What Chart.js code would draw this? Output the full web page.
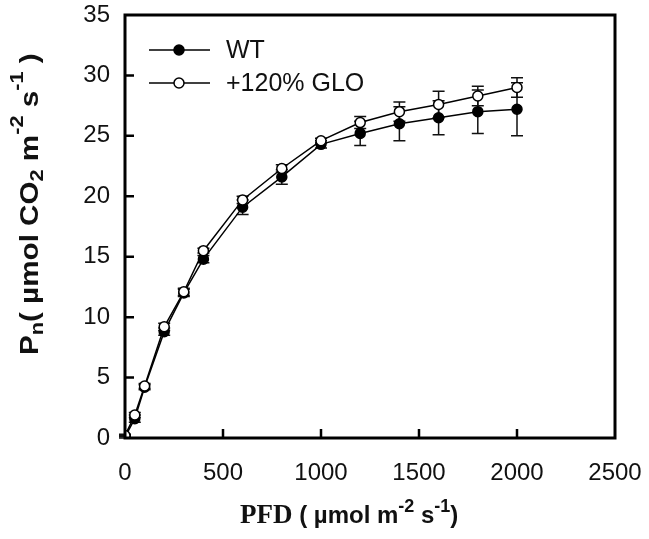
<!DOCTYPE html>
<html>
<head>
<meta charset="utf-8">
<script src="https://cdn.jsdelivr.net/npm/chart.js@4"></script>
<style>
  html, body { margin: 0; padding: 0; background: #fff; }
  #wrap { width: 649px; height: 539px; position: relative; }
</style>
</head>
<body>
<div id="wrap"><canvas id="lightChart"></canvas></div>
<script>
// PFD levels (µmol m-2 s-1)
const pfd = [0, 50, 100, 200, 300, 400, 600, 800, 1000, 1200, 1400, 1600, 1800, 2000];

// net photosynthesis, WT
const wtMean = [0.1, 1.6, 4.2, 8.8, 12.0, 14.8, 19.1, 21.6, 24.3, 25.2, 26.0, 26.5, 27.0, 27.2];
const wtErr  = [0.1, 0.3, 0.2, 0.3, 0.3, 0.3, 0.6, 0.6, 0.3, 1.0, 1.4, 1.4, 1.8, 2.2];

// net photosynthesis, +120% GLO
const gloMean = [0.2, 1.9, 4.3, 9.2, 12.1, 15.5, 19.7, 22.3, 24.6, 26.1, 27.0, 27.6, 28.3, 29.0];
const gloErr  = [0.1, 0.2, 0.2, 0.3, 0.3, 0.2, 0.3, 0.3, 0.2, 0.5, 0.8, 1.1, 0.8, 0.8];

const seriesNames = ['WT', '+120% GLO'];
const xTicks = [0, 500, 1000, 1500, 2000, 2500];
const yTicks = [0, 5, 10, 15, 20, 25, 30, 35];

const SANS = '"Liberation Sans", Arial, sans-serif';
const SERIF = '"Liberation Serif", "Times New Roman", serif';

function toPoints(xs, ys) {
    return xs.map((x, i) => ({ x: x, y: ys[i] }));
}

// error bars, drawn under the markers
const errorBars = {
    id: 'errorBars',
    beforeDatasetsDraw(chart) {
        const ctx = chart.ctx;
        const xs = chart.scales.x, ys = chart.scales.y;
        ctx.save();
        ctx.strokeStyle = '#111';
        ctx.lineWidth = 1.5;
        chart.data.datasets.forEach(ds => {
            ds.data.forEach((p, i) => {
                const e = ds.errors[i];
                const px = xs.getPixelForValue(p.x);
                const top = ys.getPixelForValue(p.y + e);
                const bot = ys.getPixelForValue(p.y - e);
                ctx.beginPath();
                ctx.moveTo(px, top); ctx.lineTo(px, bot);
                ctx.moveTo(px - 6, top); ctx.lineTo(px + 6, top);
                ctx.moveTo(px - 6, bot); ctx.lineTo(px + 6, bot);
                ctx.stroke();
            });
        });
        ctx.restore();
    }
};

// frame, inward ticks, legend and axis titles
const decorations = {
    id: 'decorations',
    afterDraw(chart) {
        const ctx = chart.ctx;
        const a = chart.chartArea;
        const xs = chart.scales.x, ys = chart.scales.y;
        ctx.save();
        ctx.strokeStyle = '#000';
        ctx.lineWidth = 3;
        ctx.strokeRect(a.left, a.top, a.right - a.left, a.bottom - a.top);

        ctx.lineWidth = 2.5;
        ctx.beginPath();
        xTicks.slice(1, -1).forEach(v => {
            const px = xs.getPixelForValue(v);
            ctx.moveTo(px, a.bottom); ctx.lineTo(px, a.bottom - 9);
        });
        yTicks.slice(1, -1).forEach(v => {
            const py = ys.getPixelForValue(v);
            ctx.moveTo(a.left, py); ctx.lineTo(a.left + 9, py);
        });
        ctx.stroke();

        // legend
        const rows = [
            { name: seriesNames[0], fill: '#000', y: 50 },
            { name: seriesNames[1], fill: '#fff', y: 83 }
        ];
        rows.forEach(r => {
            ctx.lineWidth = 1.5;
            ctx.strokeStyle = '#000';
            ctx.beginPath();
            ctx.moveTo(149, r.y); ctx.lineTo(210, r.y);
            ctx.stroke();
            ctx.beginPath();
            ctx.arc(179, r.y, 5, 0, Math.PI * 2);
            ctx.fillStyle = r.fill;
            ctx.fill();
            ctx.stroke();
            ctx.fillStyle = '#111';
            ctx.font = '25px ' + SANS;
            ctx.textBaseline = 'middle';
            ctx.textAlign = 'left';
            ctx.fillText(r.name, 226, r.y + 1);
        });

        // x title: PFD ( µmol m-2 s-1)
        ctx.textBaseline = 'alphabetic';
        let x = 240;
        const xb = 523;
        const put = (txt, font, dy) => {
            ctx.font = font;
            ctx.fillText(txt, x, xb + dy);
            x += ctx.measureText(txt).width;
        };
        ctx.fillStyle = '#111';
        put('PFD', 'bold 27px ' + SERIF, 0);
        put(' ( µmol m', 'bold 24px ' + SANS, 0);
        put('-2', 'bold 18px ' + SANS, -11);
        put(' s', 'bold 24px ' + SANS, 0);
        put('-1', 'bold 18px ' + SANS, -11);
        put(')', 'bold 24px ' + SANS, 0);

        // y title: Pn( µmol CO2 m-2 s-1 ), a little stretched along its length
        ctx.translate(38, 355);
        ctx.rotate(-Math.PI / 2);
        ctx.scale(1.14, 1);
        x = 0;
        const putY = (txt, font, dy) => {
            ctx.font = font;
            ctx.fillText(txt, x, dy);
            x += ctx.measureText(txt).width;
        };
        putY('P', 'bold 26px ' + SANS, 0);
        putY('n', 'bold 19px ' + SANS, 5);
        putY('( µmol CO', 'bold 26px ' + SANS, 0);
        putY('2', 'bold 19px ' + SANS, 5);
        putY(' m', 'bold 26px ' + SANS, 0);
        putY('-2', 'bold 19px ' + SANS, -15);
        putY(' s', 'bold 26px ' + SANS, 0);
        putY('-1', 'bold 19px ' + SANS, -15);
        putY(' )', 'bold 26px ' + SANS, 0);
        ctx.restore();
    }
};

const lineData = {
    datasets: [
        {
            label: seriesNames[0],
            data: toPoints(pfd, wtMean),
            errors: wtErr,
            borderColor: '#000',
            borderWidth: 1.5,
            pointRadius: 5,
            pointBorderWidth: 1.5,
            pointBackgroundColor: '#000',
            pointBorderColor: '#000',
            order: 2
        },
        {
            label: seriesNames[1],
            data: toPoints(pfd, gloMean),
            errors: gloErr,
            borderColor: '#000',
            borderWidth: 1.5,
            pointRadius: 5,
            pointBorderWidth: 1.5,
            pointBackgroundColor: '#fff',
            pointBorderColor: '#000',
            order: 1
        }
    ]
};

// keep the plot box fixed: no extra padding for edge labels
function noPad(s) {
    s.paddingLeft = 0; s.paddingRight = 0;
    s.paddingTop = 0; s.paddingBottom = 0;
}

const config = {
    type: 'line',
    data: lineData,
    options: {
        responsive: true,
        maintainAspectRatio: false,
        animation: false,
        layout: { padding: { left: 0, top: 15, right: 34, bottom: 0 } },
        plugins: { legend: { display: false }, tooltip: { enabled: false } },
        scales: {
            x: {
                type: 'linear',
                min: 0, max: 2500,
                afterBuildTicks: s => { s.ticks = xTicks.map(v => ({ value: v })); },
                afterFit: s => { s.height = 101; noPad(s); },
                grid: { display: false, drawTicks: false },
                border: { display: false },
                ticks: { color: '#111', padding: 21, font: { family: SANS, size: 24 },
                         callback: v => String(v) }
            },
            y: {
                type: 'linear',
                min: 0, max: 35,
                afterBuildTicks: s => { s.ticks = yTicks.map(v => ({ value: v })); },
                afterFit: s => { s.width = 125; noPad(s); },
                grid: { display: false, drawTicks: false },
                border: { display: false },
                ticks: { color: '#111', padding: 15, font: { family: SANS, size: 24 },
                         callback: v => String(v) }
            }
        }
    },
    plugins: [errorBars, decorations]
};

const lightChart = new Chart(document.getElementById('lightChart'), config);
</script>
</body>
</html>
